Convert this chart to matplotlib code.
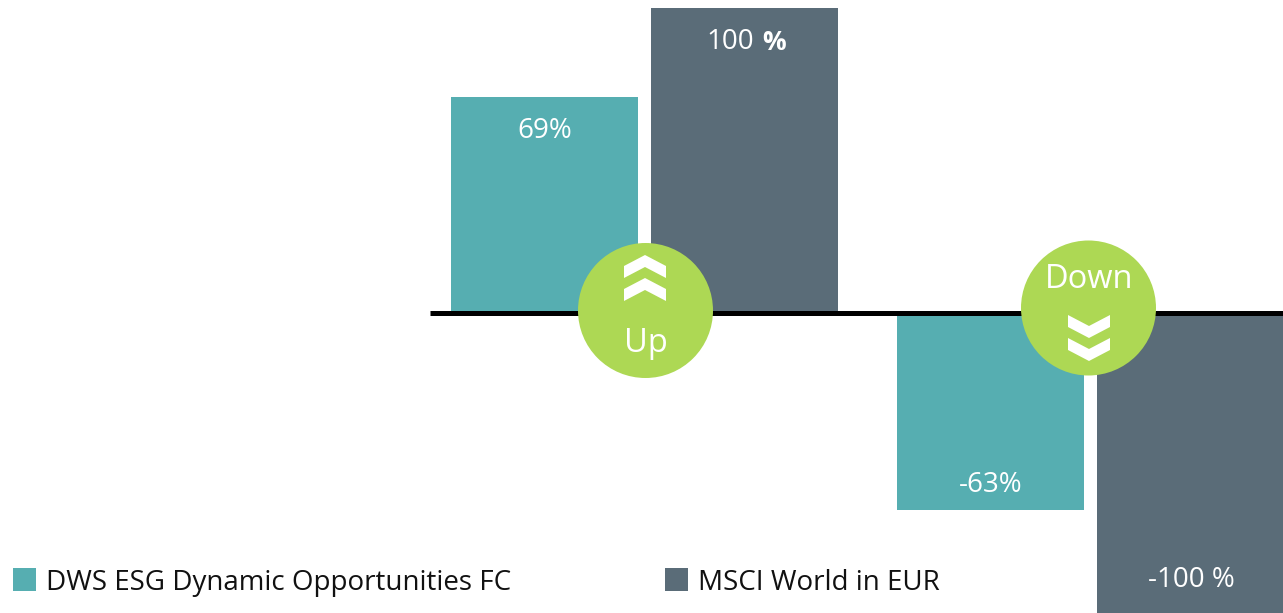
import matplotlib
matplotlib.use("Agg")
import matplotlib.pyplot as plt
from matplotlib.patches import Circle, Polygon, Rectangle

plt.rcParams['font.family'] = ['Open Sans', 'DejaVu Sans']

W, H = 1283, 613

# Data
groups = [0, 1]
fund_values = [69, -63]
index_values = [97.5, -100]  # the up bar is drawn a bit short of scale in the original
fund_labels = ['69%', '-63%']
index_labels = ['100 ', '-100 %']
series_names = ['DWS ESG Dynamic Opportunities FC', 'MSCI World in EUR']
badge_labels = ['Up', 'Down']

TEAL = '#56AEB1'
SLATE = '#5A6C78'
GREEN = '#ADD854'

fig = plt.figure(figsize=(W / 100, H / 100), dpi=100)
ax = fig.add_axes([0, 0, 1, 1])

# one group step is 446 px, one value unit is 3.13 px
ax.set_xlim(-644.5 / 446, (W - 644.5) / 446)
ax.set_ylim(-(H - 313) / 3.13, 313 / 3.13)
ax.axis('off')

bar_w = 187 / 446
offset = 100 / 446
fund_x = [g - offset for g in groups]
index_x = [g + offset for g in groups]

ax.bar(fund_x, fund_values, bar_w, color=TEAL)
ax.bar(index_x, index_values, bar_w, color=SLATE)

# pixel overlay for the baseline, badges and legend
ov = fig.add_axes([0, 0, 1, 1])
ov.set_xlim(0, W)
ov.set_ylim(H, 0)
ov.axis('off')
ov.patch.set_alpha(0)

ov.plot([430, W], [313, 313], color='black', lw=3.6, solid_capstyle='butt', zorder=1)


def chevron(tip_x, tip_y, direction):
    # direction -1 points up, 1 points down
    d = direction
    pts = [(tip_x - 21, tip_y - 23 * d), (tip_x, tip_y - 12 * d),
           (tip_x + 21, tip_y - 23 * d), (tip_x + 21, tip_y - 11 * d),
           (tip_x, tip_y), (tip_x - 21, tip_y - 11 * d)]
    ov.add_patch(Polygon(pts, closed=True, color='white', lw=0, zorder=4))


ov.add_patch(Circle((645.5, 310.5), 67.5, color=GREEN, lw=0, zorder=3))
ov.add_patch(Circle((1088.5, 308), 67.5, color=GREEN, lw=0, zorder=3))
chevron(645, 255, -1)
chevron(645, 278, -1)
chevron(1089, 338, 1)
chevron(1089, 361, 1)

fs = 20
ov.text(645.5, 344, badge_labels[0], color='white', fontsize=23.5, ha='center', va='center', zorder=5)
ov.text(1089, 280, badge_labels[1], color='white', fontsize=23.5, ha='center', va='center', zorder=5)

# value labels
ov.text(544.5, 131, fund_labels[0], color='white', fontsize=fs, ha='center', va='center')
ov.text(991, 485, fund_labels[1], color='white', fontsize=fs, ha='center', va='center')
ov.text(1191, 580, index_labels[1], color='white', fontsize=fs, ha='center', va='center')
ov.text(706, 42, index_labels[0].strip(), color='white', fontsize=fs, ha='left', va='center')
ov.text(762, 42, '%', color='white', fontsize=fs - 1, fontweight='bold', ha='left', va='center')

# legend
ov.add_patch(Rectangle((13, 568), 23, 23, color=TEAL, lw=0))
ov.add_patch(Rectangle((665, 568), 23, 23, color=SLATE, lw=0))
ov.text(46, 583, series_names[0], color='#111111', fontsize=fs, ha='left', va='center')
ov.text(698, 583, series_names[1], color='#111111', fontsize=fs, ha='left', va='center')

fig.savefig('out.png', dpi=100)
